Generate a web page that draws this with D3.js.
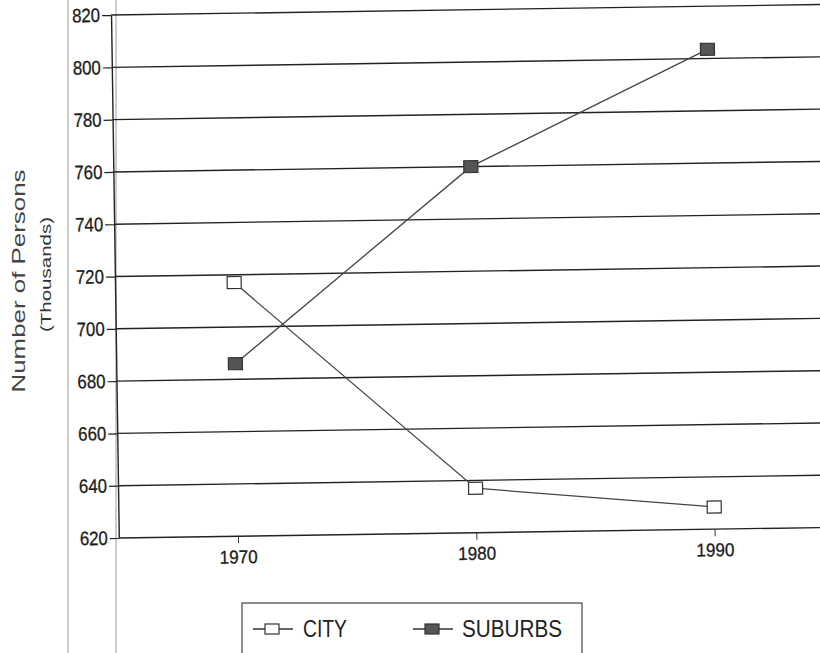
<!DOCTYPE html>
<html>
<head>
<meta charset="utf-8">
<script src="https://cdn.jsdelivr.net/npm/d3@7"></script>
<style>
  html, body { margin: 0; padding: 0; background: #fff; }
  svg { display: block; }
  text { font-family: "Liberation Sans", Arial, sans-serif; }
</style>
</head>
<body>
<svg id="chart" width="820" height="653"></svg>
<script>
// ---- data ----
const years = [1970, 1980, 1990];
const cityValues = [717, 637, 628.5];
const suburbsValues = [686, 760, 803.5];
const yTickValues = [620, 640, 660, 680, 700, 720, 740, 760, 780, 800, 820];
const xTickValues = [1970, 1980, 1990];
const seriesNames = ["CITY", "SUBURBS"];
const yTitle = "Number of Persons";
const ySubTitle = "(Thousands)";

// ---- drawing ----
const svg = d3.select("#chart");

// page-edge lines of the scan
svg.append("line").attr("x1", 68).attr("x2", 68).attr("y1", 0).attr("y2", 653)
  .attr("stroke", "#9a9a9a").attr("stroke-width", 1);
svg.append("line").attr("x1", 116).attr("x2", 116).attr("y1", 0).attr("y2", 653)
  .attr("stroke", "#9a9a9a").attr("stroke-width", 1);

const x = d3.scaleLinear().domain([1965, 1995]).range([115, 830]);
const y = d3.scaleLinear().domain([620, 820]).range([533.5, 10.5]);

const g = svg.append("g").attr("transform", "rotate(-0.85, 420, 280)");

// gridlines
g.append("g").selectAll("line").data(yTickValues).join("line")
  .attr("x1", x(1965)).attr("x2", 860)
  .attr("y1", d => y(d)).attr("y2", d => y(d))
  .attr("stroke", "#222").attr("stroke-width", 1.4);

// y axis
const yAxis = g.append("g").attr("transform", `translate(${x(1965)},0)`)
  .call(d3.axisLeft(y).tickValues(yTickValues).tickSize(9).tickSizeOuter(0).tickPadding(2));
yAxis.select(".domain").attr("stroke", "#222").attr("stroke-width", 1.4);
yAxis.selectAll(".tick line").attr("stroke", "#222").attr("stroke-width", 1.2);
yAxis.selectAll(".tick text").attr("font-size", 19.5).attr("fill", "#1a1a1a")
  .attr("stroke", "#1a1a1a").attr("stroke-width", 0.3)
  .attr("textLength", 28).attr("lengthAdjust", "spacingAndGlyphs")
  .attr("font-family", "Liberation Sans, Arial, sans-serif");

// x axis
const xAxis = g.append("g").attr("transform", `translate(0,${y(620)})`)
  .call(d3.axisBottom(x).tickValues(xTickValues).tickFormat(d3.format("d"))
    .tickSize(7).tickSizeOuter(0).tickPadding(7));
xAxis.select(".domain").remove();
xAxis.selectAll(".tick line").attr("stroke", "#333").attr("stroke-width", 1);
xAxis.selectAll(".tick text").attr("font-size", 18.5).attr("fill", "#1a1a1a")
  .attr("stroke", "#1a1a1a").attr("stroke-width", 0.3)
  .attr("textLength", 38).attr("lengthAdjust", "spacingAndGlyphs")
  .attr("font-family", "Liberation Sans, Arial, sans-serif");

// series
const series = [
  { name: seriesNames[0], values: cityValues, fill: "#ffffff" },
  { name: seriesNames[1], values: suburbsValues, fill: "#555555" }
];
const line = d3.line().x(d => x(d[0])).y(d => y(d[1]));
series.forEach(s => {
  const pts = years.map((yr, i) => [yr, s.values[i]]);
  g.append("path").datum(pts).attr("d", line)
    .attr("fill", "none").attr("stroke", "#444").attr("stroke-width", 1.3);
  g.append("g").selectAll("rect").data(pts).join("rect")
    .attr("x", d => x(d[0]) - 7).attr("y", d => y(d[1]) - 6)
    .attr("width", 14).attr("height", 12)
    .attr("fill", s.fill).attr("stroke", "#333").attr("stroke-width", 1.2);
});

// y titles
svg.append("text")
  .attr("transform", "translate(25,281) rotate(-90)")
  .attr("text-anchor", "middle").attr("font-size", 18.5).attr("fill", "#444")
  .attr("textLength", 223).attr("lengthAdjust", "spacingAndGlyphs")
  .text(yTitle);
svg.append("text")
  .attr("transform", "translate(51,274.5) rotate(-90)")
  .attr("text-anchor", "middle").attr("font-size", 15).attr("fill", "#333")
  .attr("textLength", 115).attr("lengthAdjust", "spacingAndGlyphs")
  .text(ySubTitle);

// legend
const lg = svg.append("g");
lg.append("rect").attr("x", 242).attr("y", 603).attr("width", 340).attr("height", 80)
  .attr("fill", "none").attr("stroke", "#444").attr("stroke-width", 1.2);
const legendItems = [
  { name: seriesNames[0], fill: "#ffffff", lx: 253, tx: 303, tl: 44 },
  { name: seriesNames[1], fill: "#555555", lx: 413, tx: 462, tl: 100 }
];
legendItems.forEach(it => {
  lg.append("line").attr("x1", it.lx).attr("x2", it.lx + 40).attr("y1", 629).attr("y2", 629)
    .attr("stroke", "#333").attr("stroke-width", 1.3);
  lg.append("rect").attr("x", it.lx + 12).attr("y", 624).attr("width", 14).attr("height", 10)
    .attr("fill", it.fill).attr("stroke", "#333").attr("stroke-width", 1.2);
  lg.append("text").attr("x", it.tx).attr("y", 637).attr("font-size", 23.5).attr("fill", "#222")
    .attr("textLength", it.tl).attr("lengthAdjust", "spacingAndGlyphs")
    .text(it.name);
});
</script>
</body>
</html>
